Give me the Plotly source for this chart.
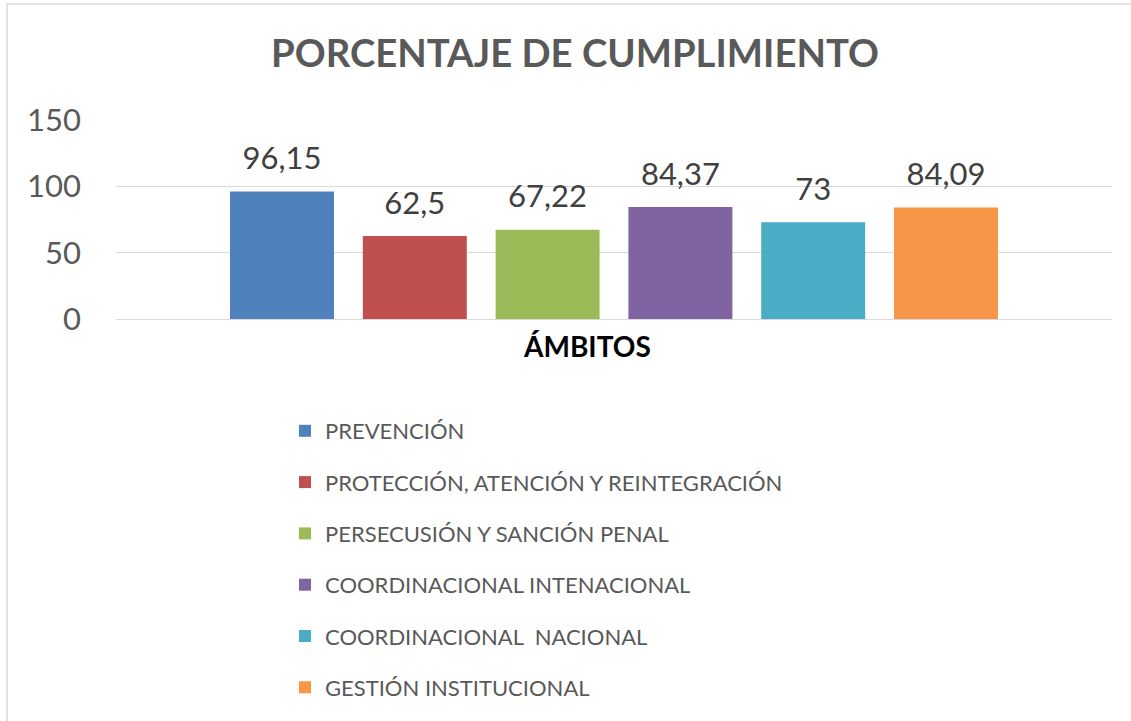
import plotly.graph_objects as go

# ---- data ----
category = ["ÁMBITOS"]
series_names = [
    "PREVENCIÓN",
    "PROTECCIÓN, ATENCIÓN Y REINTEGRACIÓN",
    "PERSECUSIÓN Y SANCIÓN PENAL",
    "COORDINACIONAL INTENACIONAL",
    "COORDINACIONAL  NACIONAL",
    "GESTIÓN INSTITUCIONAL",
]
series_values = [96.15, 62.5, 67.22, 84.37, 73, 84.09]
value_labels = ["96,15", "62,5", "67,22", "84,37", "73", "84,09"]
y_ticks = [0, 50, 100, 150]

colors = ["#4F81BD", "#C0504D", "#9BBB59", "#8064A2", "#4BACC6", "#F79646"]

FONT = "Lato"
W, H = 1131, 721
ML, MR, MT, MB = 116, 19, 120, 402
PW = W - ML - MR
PH = H - MT - MB


def px_x(p):
    return (p - ML) / PW


def px_y(p):
    return (H - MB - p) / PH


fig = go.Figure()
for i, (name, val) in enumerate(zip(series_names, series_values)):
    fig.add_trace(go.Bar(
        x=category, y=[val], name=name,
        marker=dict(color=colors[i], line=dict(width=0)),
        legendgroup=f"g{i}", offsetgroup=f"o{i}", alignmentgroup="a",
        hoverinfo="skip",
    ))
for i, (name, val) in enumerate(zip(series_names, series_values)):
    fig.add_trace(go.Scatter(
        x=category, y=[val], mode="markers+text",
        text=[value_labels[i]], textposition="top center",
        textfont=dict(family=FONT, size=31, color="#404040"),
        marker=dict(size=22, color="rgba(0,0,0,0)"),
        offsetgroup=f"o{i}", alignmentgroup="a",
        showlegend=False, cliponaxis=False, hoverinfo="skip",
    ))

fig.update_layout(
    width=W, height=H,
    margin=dict(l=ML, r=MR, t=MT, b=MB, pad=0),
    paper_bgcolor="white", plot_bgcolor="white",
    barmode="group", bargap=0.2, bargroupgap=0.217,
    scattermode="group", scattergap=0.2,
    font=dict(family=FONT, color="#595959"),
    title=dict(
        text="<b>PORCENTAJE DE CUMPLIMIENTO</b>",
        font=dict(family=FONT, size=38.3, color="#595959"),
        x=575 / W, xanchor="center", y=1 - 54 / H, yanchor="middle",
        xref="container", yref="container",
    ),
    xaxis=dict(showticklabels=False, showgrid=False, zeroline=False,
               showline=False, ticks="", fixedrange=True),
    yaxis=dict(range=[0, 150], tickvals=y_ticks, showgrid=True,
               gridcolor="#D9D9D9", gridwidth=1.3, zeroline=True,
               zerolinecolor="#D9D9D9", zerolinewidth=1.3,
               showline=False, ticks="", ticklabelstandoff=34,
               tickfont=dict(family=FONT, size=31, color="#595959")),
    showlegend=True,
    legend=dict(
        orientation="v", x=px_x(285), xanchor="left",
        y=px_y(410), yanchor="top",
        traceorder="grouped", tracegroupgap=19.7,
        font=dict(family=FONT, size=22, color="#595959"),
        bgcolor="rgba(0,0,0,0)", borderwidth=0,
    ),
    annotations=[dict(
        text="<b>" + category[0] + "</b>", xref="paper", yref="paper",
        x=px_x(587), y=px_y(346), xanchor="center", yanchor="middle",
        showarrow=False, font=dict(family=FONT, size=28, color="#000000"),
    )],
    shapes=[dict(
        type="rect", xref="paper", yref="paper",
        x0=px_x(7), y0=px_y(740), x1=px_x(1145), y1=px_y(4),
        line=dict(color="#D9D9D9", width=1.5), layer="below",
    )],
)

fig.write_html("out.html")
